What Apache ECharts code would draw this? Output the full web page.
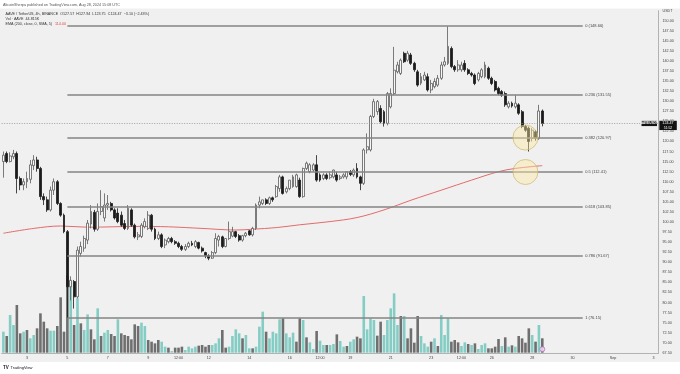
<!DOCTYPE html>
<html>
<head>
<meta charset="utf-8">
<script src="https://cdn.jsdelivr.net/npm/echarts@6/dist/echarts.min.js"></script>
<style>
html,body{margin:0;padding:0;background:#ffffff;}
#chart{width:680px;height:374px;}
</style>
</head>
<body>
<div id="chart"></div>
<script>
// ---- data (4h candles, AAVE/USDT) ----
const opens = [
115.0,117.0,115.0,116.2,117.0,110.8,109.2,110.0,110.6,114.0,
115.4,113.3,106.3,105.5,103.0,107.9,110.0,104.6,101.7,97.6,
83.9,85.2,81.4,92.2,93.5,95.5,99.5,102.4,98.2,102.6,
101.0,104.2,104.6,103.0,102.2,101.7,99.6,98.4,103.0,99.2,
96.3,96.4,98.8,98.4,101.7,98.2,95.9,96.8,94.3,95.1,
95.9,95.1,94.7,93.9,93.2,93.9,94.7,93.9,94.9,93.5,
92.4,91.6,91.0,92.4,95.5,96.3,93.9,95.9,96.5,97.6,
96.6,95.5,96.6,97.8,96.8,98.4,104.2,104.6,105.5,104.6,
106.0,106.3,108.3,111.2,107.5,108.3,108.8,108.8,110.4,106.3,
113.3,112.5,112.9,114.2,111.7,110.8,111.7,111.0,111.2,111.7,
110.8,111.2,111.2,112.5,111.7,113.3,111.2,109.6,117.9,117.9,
126.2,127.4,128.2,127.4,124.5,128.6,131.9,137.3,136.9,141.9,
140.2,141.5,139.4,137.3,134.5,135.3,136.1,132.8,133.6,134.0,
135.7,139.0,139.4,143.1,138.6,137.8,137.8,139.4,137.8,136.9,
136.5,135.3,136.1,136.1,138.2,135.7,134.9,133.2,132.4,131.9,
128.6,129.5,128.6,129.1,127.4,123.7,123.3,120.8,122.4,120.8,
127.57];
const highs = [
117.5,117.5,117.3,117.9,117.5,111.3,110.8,112.5,115.4,116.6,
116.2,113.7,107.1,106.3,108.8,110.8,110.4,104.9,102.1,98.0,
86.5,85.6,93.9,95.1,96.6,100.5,104.2,103.0,104.6,107.9,
107.1,106.7,105.0,103.4,103.4,102.6,100.5,104.2,103.4,99.6,
97.5,99.7,100.9,102.7,102.0,98.6,97.6,97.2,95.9,96.3,
96.3,95.5,95.1,94.3,94.5,95.1,95.3,95.5,95.1,93.9,
92.6,92.0,92.8,97.2,96.8,96.6,96.0,100.1,98.8,97.8,
97.0,96.8,97.5,98.0,98.8,104.6,106.3,105.5,105.9,106.3,
106.3,109.2,111.7,111.5,108.8,110.4,111.7,112.0,111.0,113.5,
115.0,114.6,114.6,116.6,112.1,112.1,112.1,112.5,113.0,112.5,
111.7,112.1,112.5,112.9,113.3,114.6,111.5,118.3,122.0,126.6,
130.6,130.3,129.0,127.8,132.3,133.2,143.5,139.8,140.6,142.3,
142.5,142.0,139.8,137.8,137.0,137.3,136.9,135.3,135.7,136.5,
139.8,141.0,148.66,143.6,139.0,140.2,139.8,140.2,138.2,137.3,
136.9,137.3,138.2,139.8,138.6,136.1,135.3,133.6,132.8,132.4,
130.0,129.9,131.5,129.5,127.8,124.1,123.7,123.3,122.8,129.1,
127.94];
const lows = [
111.0,114.6,114.8,115.6,107.1,107.9,107.9,108.4,109.6,112.9,
112.5,105.5,104.2,102.5,102.6,106.7,104.2,101.3,97.2,76.15,
80.5,78.5,81.0,91.4,92.6,94.5,98.4,97.6,97.8,101.7,
100.1,103.0,102.6,100.6,99.7,98.8,98.0,98.0,98.8,95.9,
95.5,96.0,98.4,98.0,97.6,95.5,95.5,93.5,93.5,94.7,
94.7,94.3,93.5,92.8,92.8,93.5,94.0,93.5,93.2,92.4,
91.0,90.5,90.8,92.0,93.9,93.5,93.7,95.5,96.2,96.0,
95.1,95.1,96.2,96.6,96.4,98.0,103.4,104.2,104.2,104.2,
105.0,106.0,107.5,106.8,107.1,107.9,108.5,108.5,106.0,106.0,
112.9,112.1,112.5,110.0,110.0,110.4,110.4,110.6,110.8,110.0,
110.4,110.8,110.6,111.4,111.2,110.8,107.9,109.2,117.0,117.5,
125.8,126.6,124.5,123.7,124.0,128.2,131.5,136.9,136.5,139.5,
139.8,139.0,137.3,133.6,134.0,135.0,132.4,132.0,133.2,133.6,
135.3,138.6,139.0,138.2,137.3,137.3,137.3,137.3,136.5,136.1,
134.0,134.9,135.7,135.7,135.3,134.0,132.4,131.5,131.1,128.6,
128.2,128.4,128.2,126.6,123.3,122.4,117.5,120.0,120.2,120.4,
123.75];
const closes = [
116.6,115.0,116.4,117.0,110.8,109.2,110.0,110.8,114.2,115.4,
113.3,106.3,105.5,103.0,107.9,110.0,104.6,101.7,97.6,83.9,
85.5,81.4,93.0,93.9,95.9,99.7,102.6,98.2,102.6,103.8,
104.2,104.6,103.0,101.0,100.1,99.2,98.4,103.4,99.2,96.3,
96.8,99.2,100.1,101.7,98.2,95.9,96.8,93.9,95.5,95.9,
95.1,94.7,93.9,93.2,93.9,94.7,94.3,95.1,93.5,92.8,
91.6,91.0,92.4,95.9,96.4,93.9,95.9,97.6,97.6,96.4,
95.5,96.6,97.2,96.8,98.4,104.2,105.0,105.5,104.6,106.0,
105.5,108.8,111.2,107.1,108.3,110.4,111.2,111.7,106.3,113.3,
114.6,114.2,114.2,110.4,110.4,111.7,110.8,111.7,112.9,110.4,
111.2,111.7,112.5,111.8,112.9,111.2,109.6,117.9,118.7,126.2,
129.9,129.9,124.9,124.5,131.9,131.9,137.7,139.0,140.2,139.8,
141.9,139.4,137.8,134.0,136.1,136.5,132.8,134.4,134.9,135.7,
139.0,139.8,143.6,138.6,137.8,139.0,139.0,137.8,136.9,136.5,
134.4,136.9,137.8,139.0,135.7,134.4,132.8,131.9,131.5,129.1,
129.5,128.8,129.5,127.0,123.7,122.8,120.0,122.8,120.8,127.57,
124.47];
// volume in thousands of AAVE
const volumes = [
65.4,52.0,117.2,86.1,148.4,60.2,65.4,70.6,44.7,55.0,
75.8,122.4,96.5,75.8,68.5,68.5,83.0,172.2,65.4,240,
217,86.1,169.1,91.3,70.6,119.3,72.7,41.6,138.0,52.0,
62.3,70.6,58.2,52.0,103.8,60.2,55.0,52.0,41.6,88.2,
83.0,93.4,83.0,39.5,34.3,29.1,39.5,34.3,18.8,15.7,
5.0,15.7,15.7,18.8,8.4,18.8,13.6,18.8,21.9,24.0,
18.8,24.0,24.0,29.1,44.7,70.6,15.7,18.8,52.0,72.7,
60.2,44.7,55.0,13.6,13.6,18.8,80.9,127.6,65.4,44.7,
65.4,60.2,103.8,106.9,60.2,47.8,62.3,34.3,106.9,101.7,
47.8,32.2,11.5,67.5,37.4,24.0,24.0,24.0,27.1,57.1,
36.4,18.8,20.8,34.3,41.6,49.9,44.7,176.3,72.7,106.9,
101.7,53.0,96.5,55.0,101.7,138.0,184.6,86.1,114.1,114.1,
44.7,75.8,31.2,114.1,52.0,29.1,18.8,34.3,44.7,20.8,
117.2,55.0,106.9,34.3,39.5,32.2,20.8,32.2,27.1,24.0,
29.1,11.5,24.0,29.1,13.6,13.6,18.8,42.6,20.8,47.8,
18.8,22.9,18.8,52.0,44.7,31.2,75.8,55.0,34.3,86.1,
44.815];
// 1 = teal (up) volume bar, 0 = grey (down)
const volUp = [
1,0,1,1,0,0,1,0,1,1,
0,0,0,0,1,1,0,0,0,0,
1,0,1,0,1,1,0,0,1,0,
1,1,0,0,1,0,0,0,0,0,
0,1,1,0,0,0,0,1,1,0,
1,0,0,0,1,1,1,1,0,0,
0,0,1,1,1,0,0,1,1,1,
1,0,1,1,0,1,1,1,0,1,
1,1,1,0,1,1,1,0,0,1,
0,1,1,0,1,1,0,1,1,0,
1,1,0,1,1,0,0,1,1,1,
1,0,0,1,1,1,1,1,0,1,
0,0,0,0,1,1,1,0,1,0,
1,1,1,0,0,0,1,1,0,1,
0,1,1,1,0,0,0,0,1,0,
1,0,1,0,0,0,0,1,0,1,
0];
// EMA 200 read at some candles
const emaIdx = [0,9,17,25,40,49,59,69,74,81,88,97,105,113,121,130,139,147,152,160];
const emaVal = [97.2,98.4,99.0,98.7,98.9,98.8,98.4,98.0,98.2,98.6,99.3,100.1,101.1,103.0,105.4,107.9,110.4,112.5,113.3,114.0];
// Fibonacci retracement levels
const fibRatios = ['0','0.236','0.382','0.5','0.618','0.786','1'];
const fibValues = [148.66,131.55,120.97,112.41,103.85,91.67,76.15];
// highlighted circles
const circleIdx = [155,155];
const circlePrice = [120.97,112.41];
// x tick labels
const xTickIdx = [7,19,31,43,52,61,73,85,94,103,115,127,136,145,157,169,181,193];
const xTickLabels = ['3','5','7','9','12:00','12','14','16','12:00','19','21','23','12:00','26','28','30','Sep','3'];
const countdown = '51:52';

// ---- chart ----
const FONT = '"Liberation Sans", Arial, sans-serif';
const N_SLOTS = 195;
const cats = Array.from({length:N_SLOTS}, (_, i) => String(i));
const tickMap = {};
xTickIdx.forEach((k, j) => { tickMap[k] = xTickLabels[j]; });
const candleData = opens.map((o, i) => [o, closes[i], lows[i], highs[i]]);
const emaData = opens.map(() => null);
emaIdx.forEach((k, j) => { emaData[k] = emaVal[j]; });
const lowIdx = lows.indexOf(Math.min.apply(null, lows));
const lastIdx = closes.length - 1;
const fibEnd = lastIdx + 12;
const fibLines = fibRatios.map((r, j) => [
  {coord: [lowIdx, fibValues[j]], name: r + ' (' + fibValues[j].toFixed(2) + ')'},
  {coord: [fibEnd, fibValues[j]]}
]);

const chart = echarts.init(document.getElementById('chart'), null, {renderer: 'canvas'});
const option = {
  animation: false,
  backgroundColor: '#f0f0f0',
  grid: [
    {left: 1.7, right: 21.5, top: 10.64, bottom: 21.2, outerBoundsMode: 'none', containLabel: false},
    {left: 1.7, right: 21.5, bottom: 21.3, height: 100, outerBoundsMode: 'none', containLabel: false}
  ],
  xAxis: [
    {type: 'category', gridIndex: 0, data: cats, boundaryGap: true,
     axisLine: {show: true, lineStyle: {color: '#b3b3b3', width: 1}},
     axisTick: {show: false}, splitLine: {show: false},
     axisLabel: {interval: (i) => Object.prototype.hasOwnProperty.call(tickMap, i),
                 formatter: (v, i) => tickMap[i] || '', fontSize: 3.7, color: '#444',
                 fontFamily: FONT, margin: 3.5}},
    {type: 'category', gridIndex: 1, data: cats, boundaryGap: true, show: false}
  ],
  yAxis: [
    {type: 'value', gridIndex: 0, position: 'right', min: 67.5, max: 152.5, interval: 2.5,
     axisLine: {show: true, lineStyle: {color: '#b3b3b3'}}, axisTick: {show: false},
     splitLine: {show: false},
     axisLabel: {fontSize: 3.7, color: '#444', fontFamily: FONT, margin: 4,
                 showMinLabel: true, showMaxLabel: true,
                 formatter: (v) => v >= 152.5 ? 'USDT' : v.toFixed(2)}},
    {type: 'value', gridIndex: 1, min: 0, max: 311, show: false, splitLine: {show: false}}
  ],
  series: [
    {type: 'bar', xAxisIndex: 1, yAxisIndex: 1, silent: true, z: 1, barWidth: 2.6,
     data: volumes.map((v, i) => ({value: v, itemStyle: {color: volUp[i] ? '#84cdc5' : '#6f6f6f'}}))},
    {type: 'line', xAxisIndex: 0, yAxisIndex: 0, data: emaData, connectNulls: true, smooth: 0.35,
     symbol: 'none', showSymbol: false, silent: true, z: 2,
     lineStyle: {color: '#e25b5b', width: 0.9},
     markLine: {silent: true, symbol: ['none', 'none'], label: {show: false},
                lineStyle: {color: '#8d8d8d', type: [1, 1.5], width: 0.8},
                data: [{yAxis: closes[lastIdx]}]}},
    {type: 'candlestick', xAxisIndex: 0, yAxisIndex: 0, data: candleData, barWidth: 2.4, z: 3, silent: true,
     itemStyle: {color: '#f7f7f7', color0: '#1b1b1b', borderColor: '#5c5c5c', borderColor0: '#1b1b1b', borderWidth: 0.8},
     markLine: {silent: true, symbol: ['none', 'none'],
                lineStyle: {color: '#858585', width: 1.5, type: 'solid'},
                label: {show: true, position: 'end', formatter: '{b}', fontSize: 4, color: '#444',
                        fontFamily: FONT, distance: 2.5},
                data: fibLines}},
    {type: 'scatter', xAxisIndex: 0, yAxisIndex: 0, silent: true, z: 5, symbolSize: 25,
     data: circleIdx.map((k, j) => [k, circlePrice[j]]),
     itemStyle: {color: 'rgba(250,232,160,0.55)', borderColor: '#c6b064', borderWidth: 0.8}},
    {type: 'scatter', xAxisIndex: 1, yAxisIndex: 1, silent: true, z: 6, symbolSize: 5,
     data: [[lastIdx, 11]],
     itemStyle: {color: '#f8e2f6', borderColor: '#b65dbf', borderWidth: 0.9}}
  ]
};
chart.setOption(option);

// ---- texts ----
const last = lastIdx;
const chg = closes[last] - closes[last - 1];
const pct = chg / closes[last - 1] * 100;
const sgn = (x) => (x < 0 ? '\u2212' : '+') + Math.abs(x).toFixed(2);
const ohlc = 'AAVE / TetherUS, 4h, BINANCE  O' + opens[last].toFixed(2) + '  H' + highs[last].toFixed(2) +
  '  L' + lows[last].toFixed(2) + '  C' + closes[last].toFixed(2) + '  ' + sgn(chg) + ' (' + sgn(pct) + '%)';
const py = chart.convertToPixel({yAxisIndex: 0}, closes[last]);
const txt = (id, x, y, text, size, fill, weight) => ({
  type: 'text', id: id, x: x, y: y, z: 100,
  style: {text: text, font: (weight || 'normal') + ' ' + size + 'px ' + FONT, fill: fill,
          verticalAlign: 'middle', align: 'left'}
});
chart.setOption({
  graphic: [
    {type: 'rect', id: 'hdr', z: -10, shape: {x: 0, y: 0, width: 680, height: 8.5}, style: {fill: '#ffffff'}},
    {type: 'rect', id: 'ftr', z: -10, shape: {x: 0, y: 362, width: 680, height: 12}, style: {fill: '#ffffff'}},
    txt('t1', 3, 4.6, 'AltcoinSherpa published on TradingView.com, Aug 28, 2024 15:08 UTC', 3.7, '#555'),
    txt('t2', 5.5, 13.5, ohlc, 3.7, '#333'),
    txt('t3', 5.5, 18.5, 'Vol \u00b7 AAVE  ' + volumes[last].toFixed(3) + 'K', 3.7, '#333'),
    txt('t4', 5.5, 23.5, 'EMA (200, close, 0, SMA, 5)', 3.7, '#333'),
    txt('t5', 55, 23.5, emaVal[emaVal.length - 1].toFixed(2), 3.7, '#e04848'),
    txt('logo', 3, 368, 'TV', 4.5, '#131722', 'bold'),
    txt('logo2', 10.5, 368, 'TradingView', 4, '#131722'),
    {type: 'rect', id: 'symbox', z: 100, shape: {x: 641.5, y: py - 2.6, width: 15.5, height: 5.2}, style: {fill: '#131313'}},
    {type: 'text', id: 'symtxt', z: 101, x: 649.2, y: py,
     style: {text: 'AAVEUSDT', font: 'bold 3.1px ' + FONT, fill: '#ffffff', align: 'center', verticalAlign: 'middle'}},
    {type: 'rect', id: 'pbox', z: 100, shape: {x: 659.3, y: py - 2.7, width: 17.5, height: 9.3}, style: {fill: '#131313'}},
    {type: 'text', id: 'ptxt', z: 101, x: 668, y: py,
     style: {text: closes[last].toFixed(2), font: '3.7px ' + FONT, fill: '#ffffff', align: 'center', verticalAlign: 'middle'}},
    {type: 'text', id: 'ctxt', z: 101, x: 668, y: py + 4.2,
     style: {text: countdown, font: '3.4px ' + FONT, fill: '#ffffff', align: 'center', verticalAlign: 'middle'}}
  ]
});
</script>
</body>
</html>
